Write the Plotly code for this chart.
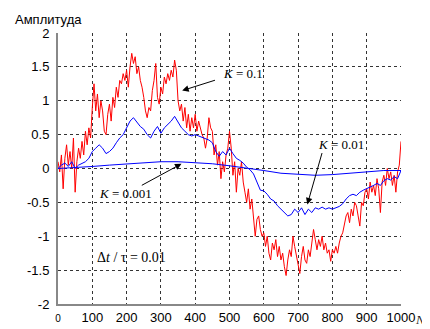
import plotly.graph_objects as go

# K = 0.1 (red), step 5
n_red = list(range(0, 1001, 5))
red_vals = [
    0.1, -0.05, 0.2, -0.3, 0.15, 0.35, 0.05, 0.25, 0.0, 0.45,
    -0.35, 0.1, 0.3, 0.15, 0.4, 0.2, 0.55, 0.35, 0.6, 0.45,
    0.9, 1.25, 0.85, 1.1, 0.75, 1.0, 0.85, 0.55, 0.5, 0.8,
    0.95, 0.7, 1.05, 0.9, 1.2, 1.05, 1.3, 1.25, 1.4, 1.3,
    1.45, 1.2, 1.5, 1.7, 1.55, 1.65, 1.4, 1.5, 1.3, 1.2,
    1.05, 0.85, 0.75, 0.9, 0.85, 1.15, 1.3, 1.55, 1.05, 0.95,
    1.2, 1.1, 1.35, 1.25, 1.4, 1.3, 1.45, 1.35, 1.6, 1.45,
    1.0, 0.85, 0.95, 0.7, 0.9, 0.6, 0.8, 0.55, 0.75, 0.6,
    0.8, 0.55, 0.7, 0.6, 0.5, 0.45, 0.3, 0.45, 0.75, 0.6,
    0.55, 0.2, 0.35, 0.05, 0.25, -0.15, 0.1, -0.05, 0.2, 0.3,
    0.55, 0.3, -0.1, 0.1, -0.35, 0.0, -0.1, 0.1, -0.2, -0.35,
    -0.5, -0.3, -0.6, -0.45, -0.8, -1.0, -0.75, -0.7, -0.9, -1.0,
    -0.95, -1.15, -1.0, -1.25, -1.35, -1.1, -1.2, -1.05, -1.3, -1.15,
    -1.35, -1.25, -1.45, -1.58, -1.35, -1.2, -1.3, -1.0, -1.15, -1.3,
    -1.45, -1.55, -1.3, -1.15, -1.35, -1.4, -1.2, -1.3, -1.1, -0.9,
    -1.05, -1.2, -1.05, -1.15, -1.0, -1.2, -1.1, -1.25, -1.2, -1.37,
    -1.2, -1.25, -1.15, -1.25, -1.1, -1.0, -0.95, -0.8, -0.7, -0.65,
    -0.8, -0.6, -0.7, -0.5, -0.55, -0.7, -0.85, -0.5, -0.55, -0.35,
    -0.3, -0.45, -0.2, -0.35, -0.25, -0.4, -0.15, -0.3, -0.65, -0.2,
    -0.1, -0.25, 0.0, -0.15, -0.05, -0.25, -0.1, -0.35, -0.05, 0.05,
    0.4,
]

# K = 0.01 (blue), step 10
n_mid = list(range(0, 1001, 10))
mid_vals = [
    0.0, 0.05, 0.08, 0.03, 0.1, 0.0, 0.05, 0.08, 0.1, 0.15,
    0.25, 0.3, 0.35, 0.3, 0.22, 0.25, 0.3, 0.38, 0.45, 0.5,
    0.6, 0.7, 0.75, 0.68, 0.62, 0.58, 0.5, 0.45, 0.55, 0.62,
    0.52, 0.6, 0.65, 0.7, 0.77, 0.68, 0.6, 0.55, 0.5, 0.48,
    0.5, 0.48, 0.46, 0.45, 0.42, 0.38, 0.25, 0.18, 0.25, 0.2,
    0.3, 0.22, 0.15, 0.12, 0.08, 0.02, -0.02, -0.08, -0.2, -0.32,
    -0.33, -0.38, -0.45, -0.48, -0.55, -0.6, -0.65, -0.7, -0.68, -0.6,
    -0.65, -0.58, -0.68, -0.6, -0.65, -0.58, -0.6, -0.57, -0.6, -0.58,
    -0.6, -0.58, -0.56, -0.52, -0.45, -0.4, -0.38, -0.4, -0.35, -0.32,
    -0.3, -0.28, -0.25, -0.22, -0.25, -0.18, -0.15, -0.17, -0.12, -0.15,
    -0.03,
]

# K = 0.001 (blue, smooth), step 50
n_slow = list(range(0, 1001, 50))
slow_vals = [0.0, 0.01, 0.03, 0.05, 0.07, 0.09, 0.1, 0.1, 0.09, 0.07,
             0.04, 0.01, -0.03, -0.07, -0.09, -0.1, -0.09, -0.07, -0.05, -0.03, -0.03]

x_ticks = list(range(0, 1001, 100))
x_ticktext = ["<span style='font-size:10px'>0</span>"] + [str(v) for v in x_ticks[1:]]
y_ticks = [-2, -1.5, -1, -0.5, 0, 0.5, 1, 1.5, 2]
y_ticktext = ["-2", "-1.5", "-1", "-0.5", "0", "0.5", "1", "1.5", "2"]

fig = go.Figure()
fig.add_trace(go.Scatter(x=n_red, y=red_vals, mode="lines",
                         line=dict(color="#ff0000", width=1), showlegend=False))
fig.add_trace(go.Scatter(x=n_mid, y=mid_vals, mode="lines",
                         line=dict(color="#0000ff", width=1), showlegend=False))
fig.add_trace(go.Scatter(x=n_slow, y=slow_vals, mode="lines",
                         line=dict(color="#0000ff", width=1), showlegend=False))

serif = "Liberation Serif, Times New Roman, serif"
sans = "Liberation Sans, Arial, sans-serif"

annots = [
    dict(x=362, y=1.15, ax=462, ay=1.31),
    dict(x=727, y=-0.53, ax=771, ay=0.25),
    dict(x=360, y=0.07, ax=240, ay=-0.26),
]
for a in annots:
    fig.add_annotation(x=a["x"], y=a["y"], ax=a["ax"], ay=a["ay"], xref="x", yref="y",
                       axref="x", ayref="y", text="", showarrow=True,
                       arrowhead=2, arrowsize=1.3, arrowwidth=1, arrowcolor="black")

fig.add_annotation(x=475, y=1.4, xref="x", yref="y", text="<i>K</i> = 0.1",
                   showarrow=False, xanchor="left", yanchor="middle",
                   font=dict(family=serif, size=13, color="black"))
fig.add_annotation(x=824, y=0.35, xref="x", yref="y", text="<i>K</i> = 0.01",
                   showarrow=False, xanchor="center", yanchor="middle",
                   font=dict(family=serif, size=13, color="black"))
fig.add_annotation(x=198, y=-0.37, xref="x", yref="y", text="<i>K</i> = 0.001",
                   showarrow=False, xanchor="center", yanchor="middle",
                   font=dict(family=serif, size=13, color="black"))
fig.add_annotation(x=215, y=-1.31, xref="x", yref="y", text="Δ<i>t</i> / τ = 0.01",
                   showarrow=False, xanchor="center", yanchor="middle",
                   font=dict(family=serif, size=14, color="black"))
fig.add_annotation(x=-0.029, y=1.048, xref="paper", yref="paper", text="Амплитуда",
                   showarrow=False, xanchor="center", yanchor="middle",
                   font=dict(family=sans, size=13, color="black"))
fig.add_annotation(x=1.058, y=-0.058, xref="paper", yref="paper", text="<i>N</i>",
                   showarrow=False, xanchor="center", yanchor="middle",
                   font=dict(family=serif, size=13, color="#222"))

fig.update_xaxes(range=[0, 1000], tickvals=x_ticks, ticktext=x_ticktext,
                 showgrid=True, gridcolor="#333", griddash="dot", gridwidth=1,
                 showline=True, linecolor="#888", linewidth=2, zeroline=False,
                 automargin=False,
                 ticks="", tickfont=dict(family=sans, size=13, color="black"))
fig.update_yaxes(range=[-2, 2], tickvals=y_ticks, ticktext=y_ticktext,
                 showgrid=True, gridcolor="#333", griddash="dot", gridwidth=1,
                 showline=True, linecolor="#888", linewidth=2, zeroline=False,
                 automargin=False,
                 ticks="", ticklabelstandoff=4, tickfont=dict(family=sans, size=13, color="black"))

# page body has an 8px default margin, so the figure is sized to fit inside the window
fig.update_layout(width=422, height=321, margin=dict(l=50, r=29, t=25, b=25),
                  plot_bgcolor="white", paper_bgcolor="white")

fig.write_html("out.html")
